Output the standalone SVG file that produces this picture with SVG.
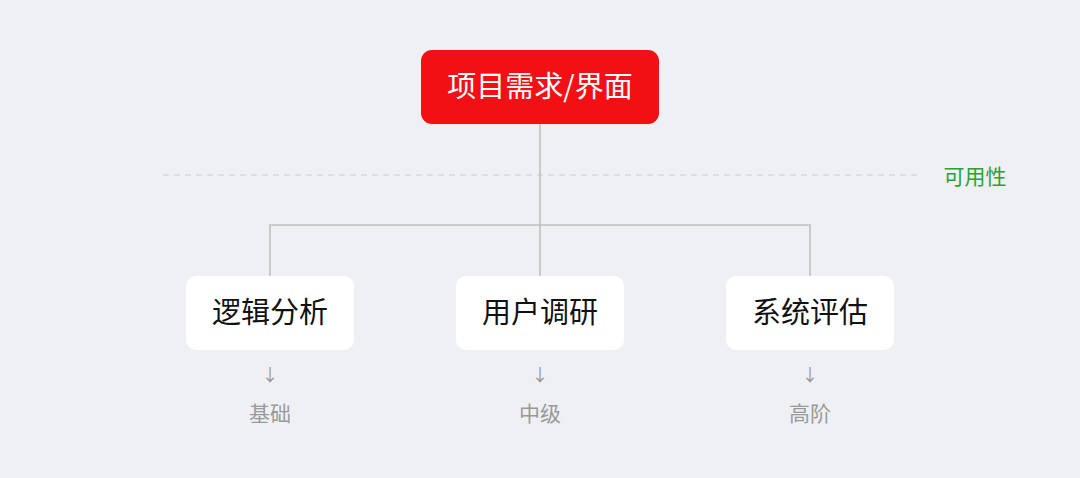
<svg xmlns="http://www.w3.org/2000/svg" width="1080" height="478" viewBox="0 0 1080 478">
<style>
.t{font-family:"Noto Sans CJK SC","Noto Sans",sans-serif;text-anchor:middle}
.box{fill:#ffffff}
.lbl{font-size:29px;fill:#111111}
.lvl{font-size:21px;fill:#9a9a9a}
.arr{font-size:17px;fill:#999999}
.con{stroke:#bdbdbd;stroke-width:1.5;fill:none}
</style>
<rect width="1080" height="478" fill="#eef0f4"/>
<line x1="163" y1="175" x2="918" y2="175" stroke="#c9cbd0" stroke-width="1.2" stroke-dasharray="6 5"/>
<text class="t" x="975" y="184" font-size="21" fill="#2e9e36">可用性</text>
<g id="connectors">
<path class="con" d="M540 124V276M270 276V225H810V276"/>
</g>
<g id="root">
<rect x="421" y="50" width="238" height="74" rx="11" fill="#f21014"/>
<text class="t" x="540" y="97" font-size="29" fill="#ffffff">项目需求/界面</text>
</g>
<g id="n1">
<rect class="box" x="186" y="276" width="168" height="74" rx="10"/>
<text class="t lbl" x="270" y="323">逻辑分析</text>
<text class="t arr" x="270" y="381">↓</text>
<text class="t lvl" x="270" y="421">基础</text>
</g>
<g id="n2">
<rect class="box" x="456" y="276" width="168" height="74" rx="10"/>
<text class="t lbl" x="540" y="323">用户调研</text>
<text class="t arr" x="540" y="381">↓</text>
<text class="t lvl" x="540" y="421">中级</text>
</g>
<g id="n3">
<rect class="box" x="726" y="276" width="168" height="74" rx="10"/>
<text class="t lbl" x="810" y="323">系统评估</text>
<text class="t arr" x="810" y="381">↓</text>
<text class="t lvl" x="810" y="421">高阶</text>
</g>
</svg>
